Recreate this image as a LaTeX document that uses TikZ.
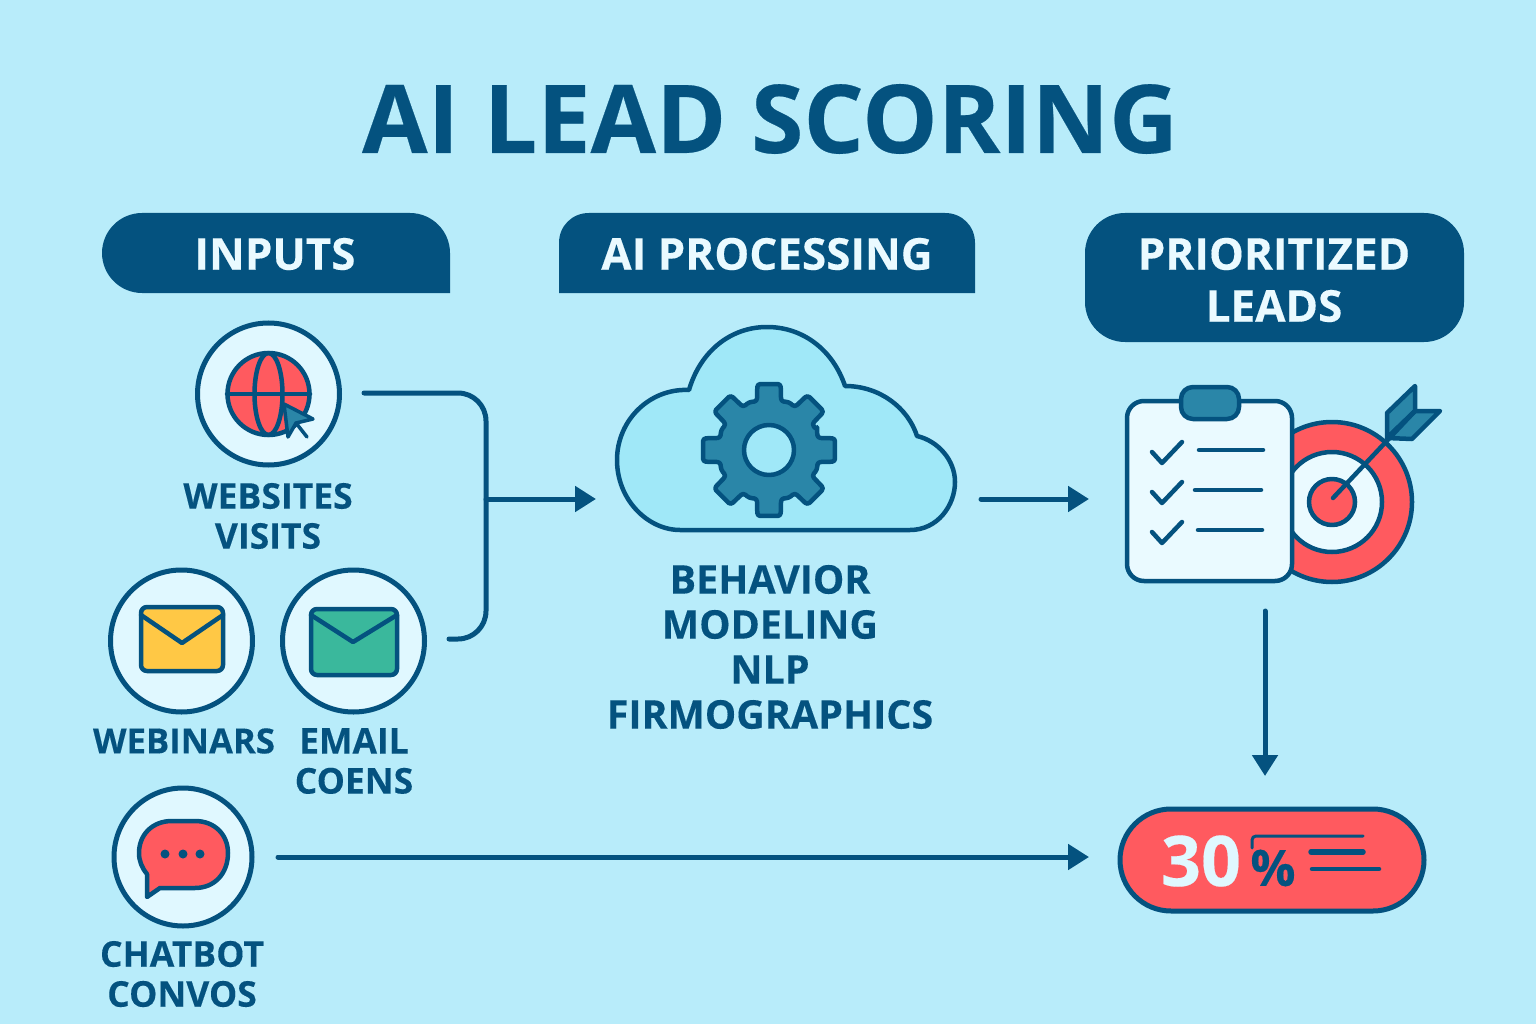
\documentclass[tikz,border=0pt]{standalone}
\usepackage{fontspec}
\setmainfont{Open Sans}[BoldFeatures={FakeBold=0.25}]
\usetikzlibrary{arrows.meta,shapes.misc}
\definecolor{skybg}{HTML}{B8ECFA}
\definecolor{navy}{HTML}{04527F}
\definecolor{coral}{HTML}{FF5A5F}
\definecolor{sun}{HTML}{FFC845}
\definecolor{mint}{HTML}{3AB89C}
\definecolor{pale}{HTML}{E0F8FF}
\definecolor{paper}{HTML}{EAFAFF}
\definecolor{cloudblue}{HTML}{A0E8F8}
\definecolor{teal}{HTML}{2A86A8}
\tikzset{
  headbox/.style={fill=navy},
  headtext/.style={text=paper,font=\fontsize{44}{52}\selectfont\bfseries,align=center,inner sep=0pt},
  lbl/.style={text=navy,font=\fontsize{35.5}{40}\selectfont\bfseries,align=center,inner sep=0pt},
  iconring/.style={circle,draw=navy,fill=pale,line width=5pt,minimum size=142pt,inner sep=0pt},
  icon/.style={draw=navy,line width=4.5pt,line join=round,line cap=round},
  flow/.style={draw=navy,line width=5pt,line cap=round},
  flowarrow/.style={flow,-{Triangle[length=21pt,width=25pt]}}
}
\begin{document}
\begin{tikzpicture}[x=1pt,y=-1pt]
  \path[fill=skybg,use as bounding box] (0,0) rectangle (1536,1024);

  \node[text=navy,font=\fontsize{95}{100}\selectfont\bfseries,inner sep=0pt] (title) at (770,119) {AI LEAD SCORING};

  \path[headbox] (102,253) .. controls (102,231) and (120,213) .. (142,213) -- (410,213)
    .. controls (432,213) and (450,231) .. (450,253) -- (450,293) -- (142,293)
    .. controls (120,293) and (102,275) .. (102,253) -- cycle;
  \path[headbox] (559,293) -- (559,243) .. controls (559,226) and (572,213) .. (589,213) -- (945,213)
    .. controls (962,213) and (975,226) .. (975,243) -- (975,293) -- cycle;
  \path[headbox,rounded corners=40pt] (1085,213) rectangle (1464,342);
  \node[headtext] (inputs) at (275,254) {INPUTS};
  \node[headtext] (processing) at (767,254) {AI PROCESSING};
  \node[headtext] (prioritized) at (1274,280) {PRIORITIZED\\LEADS};

  \node[iconring] (web) at (268.5,394) {};
  \node[iconring] (webinar) at (181.5,641) {};
  \node[iconring] (email) at (353.5,641) {};
  \node[iconring,minimum size=138pt] (chatbot) at (183,857) {};
  \node[lbl] (weblbl) at (268,516) {WEBSITES\\VISITS};
  \node[lbl,font=\fontsize{34.7}{40}\selectfont\bfseries] (webinarlbl) at (184,741) {WEBINARS};
  \node[lbl] (emaillbl) at (354,761) {EMAIL\\COENS};
  \node[lbl] (chatbotlbl) at (182,974) {CHATBOT\\CONVOS};

  \draw[icon,fill=coral] (web) circle (41);
  \draw[icon] (web) ellipse (14 and 41);
  \draw[icon] (227,394) -- (310,394);
  \draw[icon,line width=3.5pt,fill=teal] (284,404) -- (313,419) -- (296,423) -- (288,437) -- cycle;
  \draw[icon,line width=3.5pt] (296,423) -- (307,437);

  \draw[icon,fill=sun,rounded corners=6pt] (141,607) rectangle (223,671);
  \draw[icon] (141,615) -- (182,643) -- (223,615);
  \draw[icon,fill=mint,rounded corners=6pt] (311,609) rectangle (397,675);
  \draw[icon] (311,615) -- (353,642) -- (397,615);

  \draw[icon,fill=coral] (160,888) -- (147,897) -- (147,874) .. controls (142,868) and (139,861) .. (139,853)
    .. controls (139,835) and (152,821) .. (172,821) -- (195,821) .. controls (215,821) and (228,835) .. (228,853)
    .. controls (228,873) and (215,888) .. (195,888) -- cycle;
  \foreach \dotx in {165,183,200}
    \fill[navy] (\dotx,854) circle (4.5);

  \draw[icon,fill=cloudblue] (680,530) -- (910,530) .. controls (938,530) and (955,505) .. (955,482)
    .. controls (955,460) and (938,441) .. (917,436) .. controls (908,408) and (880,386) .. (845,386)
    .. controls (833,350) and (803,327) .. (767,327) .. controls (730,327) and (700,352) .. (689,390)
    .. controls (650,388) and (617,420) .. (617,460) .. controls (617,500) and (648,530) .. (680,530) -- cycle;
  \begin{scope}[shift={(769,450)}]
    \draw[icon,fill=teal,rounded corners=3pt] (-22.5:52)
      \foreach \a in {0,45,...,315} {
        -- (\a-14:50) -- (\a-10:67) -- (\a+10:67) -- (\a+14:50) -- (\a+22.5:52)
      } -- cycle;
    \draw[icon,fill=cloudblue] (0,0) circle (25);
  \end{scope}

  \node[lbl,font=\fontsize{39.5}{45}\selectfont\bfseries] (modeling) at (770,647) {BEHAVIOR\\MODELING\\NLP\\FIRMOGRAPHICS};

  \draw[icon,fill=coral] (1332,502) circle (80);
  \draw[icon,fill=paper] (1332,502) circle (50);
  \draw[icon,fill=coral] (1332,502) circle (23);
  \draw[icon,fill=teal] (1387,438) -- (1387,413) -- (1415,386) -- (1415,411) -- cycle;
  \draw[icon,fill=teal] (1387,438) -- (1412,439) -- (1440,411) -- (1415,411) -- cycle;
  \draw[icon] (1333,498) -- (1415,411);
  \draw[icon,fill=paper,rounded corners=17pt] (1127,401) rectangle (1292,581);
  \draw[icon,fill=teal,rounded corners=12pt] (1181,387) rectangle (1239,419);
  \foreach \cy/\lx/\ly in {452/1199/1263,492/1195/1261,532/1198/1262} {
    \draw[icon] (1152,\cy) -- (1162,\cy+11) -- (1182,\cy-10);
    \draw[icon] (\lx,\cy-2) -- (\ly,\cy-2);
  }

  \node[rounded rectangle,draw=navy,fill=coral,line width=5pt,minimum width=304pt,minimum height=102pt,inner sep=0pt] (score) at (1272,860) {};
  \node[text=pale,font=\fontsize{70}{72}\selectfont\bfseries,inner sep=0pt] (thirty) at (1201,861) {30};
  \node[text=navy,font=\fontsize{50}{54}\selectfont\bfseries,inner sep=0pt] (percent) at (1273,868) {\%};
  \draw[icon,line width=3pt,rounded corners=4pt] (1252,848) -- (1252,836) -- (1363,836);
  \draw[icon,line width=5.5pt] (1311,852) -- (1363,852);
  \draw[icon] (1312,869) -- (1379,869);

  \coordinate (webout) at (364,393);
  \coordinate (emailout) at (449,639);
  \coordinate (junction) at (486,499);
  \coordinate (cloudin) at (596,499);
  \coordinate (cloudout) at (981,499);
  \coordinate (clipin) at (1089,499);
  \coordinate (clipout) at (1265,611);
  \coordinate (scorein) at (1265,776);
  \coordinate (chatout) at (278,857);
  \coordinate (scoreleft) at (1089,857);

  \draw[flow,rounded corners=28pt] (webout) -| (junction) |- (emailout);
  \draw[flowarrow] (junction) -- (cloudin);
  \draw[flowarrow] (cloudout) -- (clipin);
  \draw[flowarrow] (clipout) -- (scorein);
  \draw[flowarrow] (chatout) -- (scoreleft);
\end{tikzpicture}
\end{document}
